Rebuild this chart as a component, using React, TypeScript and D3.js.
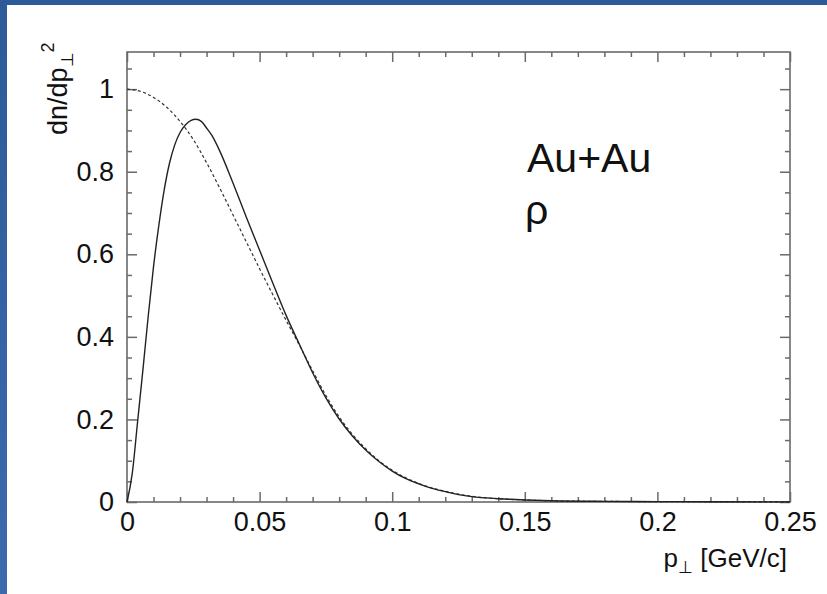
import React, { useEffect, useRef } from 'react';
import * as d3 from 'd3';

// p_perp [GeV/c] sample points and dn/dp^2 values
const solidPt = [0, 0.002, 0.004, 0.006, 0.008, 0.01, 0.012, 0.014, 0.016, 0.018, 0.02, 0.022, 0.024, 0.026, 0.028, 0.03, 0.032, 0.035, 0.04, 0.045, 0.05, 0.055, 0.06, 0.065, 0.07, 0.075, 0.08, 0.085, 0.09, 0.095, 0.1, 0.105, 0.11, 0.115, 0.12, 0.125, 0.13, 0.14, 0.15, 0.16, 0.18, 0.2, 0.22, 0.25];
const solidVal = [0.0, 0.07, 0.195, 0.32, 0.45, 0.57, 0.67, 0.755, 0.82, 0.865, 0.895, 0.913, 0.924, 0.927, 0.922, 0.906, 0.888, 0.85, 0.772, 0.69, 0.61, 0.53, 0.452, 0.382, 0.313, 0.252, 0.201, 0.16, 0.126, 0.098, 0.075, 0.057, 0.044, 0.033, 0.025, 0.018, 0.013, 0.008, 0.005, 0.003, 0.0015, 0.001, 0.0005, 0.0002];

const dashedPt = [0, 0.005, 0.01, 0.015, 0.02, 0.025, 0.03, 0.035, 0.04, 0.045, 0.05, 0.055, 0.06, 0.065, 0.07, 0.075, 0.08, 0.085, 0.09, 0.095, 0.1, 0.105, 0.11, 0.115, 0.12, 0.125, 0.13, 0.14, 0.15, 0.16, 0.18, 0.2, 0.22, 0.25];
const dashedVal = [1.0, 0.995, 0.98, 0.956, 0.922, 0.878, 0.822, 0.76, 0.695, 0.63, 0.565, 0.502, 0.44, 0.38, 0.318, 0.258, 0.206, 0.164, 0.129, 0.1, 0.077, 0.059, 0.045, 0.034, 0.026, 0.019, 0.014, 0.008, 0.005, 0.003, 0.0015, 0.001, 0.0005, 0.0002];

const xMajor = [0, 0.05, 0.1, 0.15, 0.2, 0.25];
const xMajorLabels = ['0', '0.05', '0.1', '0.15', '0.2', '0.25'];
const yMajor = [0, 0.2, 0.4, 0.6, 0.8, 1];
const yMajorLabels = ['0', '0.2', '0.4', '0.6', '0.8', '1'];

const W = 827;
const H = 594;
const left = 127, right = 790, top = 52, bottom = 502;
const FONT = '"Liberation Sans", Arial, Helvetica, sans-serif';

const App = () => {
    const ref = useRef<SVGSVGElement>(null);

    useEffect(() => {
        const svg = d3.select(ref.current);
        svg.selectAll('*').remove();

        // blue slide border
        const grad = svg.append('defs').append('linearGradient')
            .attr('id', 'bluegrad').attr('x1', 0).attr('y1', 0).attr('x2', 0).attr('y2', 1);
        grad.append('stop').attr('offset', '0%').attr('stop-color', '#2d5a98');
        grad.append('stop').attr('offset', '100%').attr('stop-color', '#3c6aac');
        svg.append('rect').attr('x', 0).attr('y', 0).attr('width', W).attr('height', H).attr('fill', '#fff');
        svg.append('rect').attr('x', 0).attr('y', 0).attr('width', W).attr('height', 5).attr('fill', '#2d5a98');
        svg.append('rect').attr('x', 0).attr('y', 0).attr('width', 7).attr('height', H).attr('fill', 'url(#bluegrad)');

        const x = d3.scaleLinear().domain([0, 0.25]).range([left, right]);
        const y = d3.scaleLinear().domain([0, 1.09]).range([bottom, top]);

        const xMinor = d3.range(0, 0.2501, 0.01).filter(v => Math.abs(v / 0.05 - Math.round(v / 0.05)) > 1e-6);
        const yMinor = d3.range(0, 1.09, 0.05).filter(v => Math.abs(v / 0.2 - Math.round(v / 0.2)) > 1e-6);

        const axisColor = '#6a6a6a';
        const styleAxis = (g: any) => {
            g.select('.domain').remove();
            g.selectAll('line').attr('stroke', axisColor).attr('stroke-width', 1.5);
        };

        // bottom
        svg.append('g').attr('transform', `translate(0,${bottom})`)
            .call(d3.axisBottom(x).tickValues(xMajor).tickSizeInner(-10).tickSizeOuter(0).tickPadding(10)
                .tickFormat((d, i) => xMajorLabels[i]))
            .call(styleAxis)
            .call(g => g.selectAll('text').attr('font-size', 27).attr('font-family', FONT).attr('fill', '#111'));
        svg.append('g').attr('transform', `translate(0,${bottom})`)
            .call(d3.axisBottom(x).tickValues(xMinor).tickSizeInner(-5).tickSizeOuter(0).tickFormat(() => ''))
            .call(styleAxis);
        // top
        svg.append('g').attr('transform', `translate(0,${top})`)
            .call(d3.axisTop(x).tickValues(xMajor).tickSizeInner(-10).tickSizeOuter(0).tickFormat(() => ''))
            .call(styleAxis);
        svg.append('g').attr('transform', `translate(0,${top})`)
            .call(d3.axisTop(x).tickValues(xMinor).tickSizeInner(-5).tickSizeOuter(0).tickFormat(() => ''))
            .call(styleAxis);
        // left
        svg.append('g').attr('transform', `translate(${left},0)`)
            .call(d3.axisLeft(y).tickValues(yMajor).tickSizeInner(-10).tickSizeOuter(0).tickPadding(13)
                .tickFormat((d, i) => yMajorLabels[i]))
            .call(styleAxis)
            .call(g => g.selectAll('text').attr('font-size', 27).attr('font-family', FONT).attr('fill', '#111'));
        svg.append('g').attr('transform', `translate(${left},0)`)
            .call(d3.axisLeft(y).tickValues(yMinor).tickSizeInner(-5).tickSizeOuter(0).tickFormat(() => ''))
            .call(styleAxis);
        // right
        svg.append('g').attr('transform', `translate(${right},0)`)
            .call(d3.axisRight(y).tickValues(yMajor).tickSizeInner(-10).tickSizeOuter(0).tickFormat(() => ''))
            .call(styleAxis);
        svg.append('g').attr('transform', `translate(${right},0)`)
            .call(d3.axisRight(y).tickValues(yMinor).tickSizeInner(-5).tickSizeOuter(0).tickFormat(() => ''))
            .call(styleAxis);

        // frame
        svg.append('rect')
            .attr('x', left).attr('y', top)
            .attr('width', right - left).attr('height', bottom - top)
            .attr('fill', 'none').attr('stroke', axisColor).attr('stroke-width', 1.6);

        const line = d3.line<number>()
            .curve(d3.curveMonotoneX);

        svg.append('path')
            .attr('d', line.x(d => x(d)).y((d, i) => y(dashedVal[i]))(dashedPt))
            .attr('fill', 'none')
            .attr('stroke', '#333')
            .attr('stroke-width', 1.2)
            .attr('stroke-dasharray', '3,2.5');

        svg.append('path')
            .attr('d', line.x(d => x(d)).y((d, i) => y(solidVal[i]))(solidPt))
            .attr('fill', 'none')
            .attr('stroke', '#222')
            .attr('stroke-width', 1.4);

        // x title
        const xt = svg.append('text')
            .attr('x', 787).attr('y', 567)
            .attr('text-anchor', 'end')
            .attr('font-family', FONT).attr('font-size', 26).attr('fill', '#111');
        xt.append('tspan').text('p');
        xt.append('tspan').attr('font-size', 17).attr('dy', 6).text('⊥');
        xt.append('tspan').attr('dy', -6).text(' [GeV/c]');

        // y title
        const yt = svg.append('text')
            .attr('transform', 'translate(67,135) rotate(-90)')
            .attr('text-anchor', 'start')
            .attr('font-family', FONT).attr('font-size', 27).attr('fill', '#111');
        yt.append('tspan').text('dn/dp');
        yt.append('tspan').attr('font-size', 17).attr('dy', 6).text('⊥');
        yt.append('tspan').attr('font-size', 18).attr('dy', -19).text('2');

        // annotations
        svg.append('text')
            .attr('x', 527).attr('y', 172)
            .attr('font-family', FONT).attr('font-size', 41).attr('fill', '#111')
            .text('Au+Au');
        svg.append('text')
            .attr('x', 525).attr('y', 224)
            .attr('font-family', FONT).attr('font-size', 41).attr('fill', '#111')
            .text('ρ');
    }, []);

    return (
        <svg ref={ref} width={W} height={H}
            style={{ position: 'absolute', left: 0, top: 0, display: 'block' }} />
    );
};

export default App;
